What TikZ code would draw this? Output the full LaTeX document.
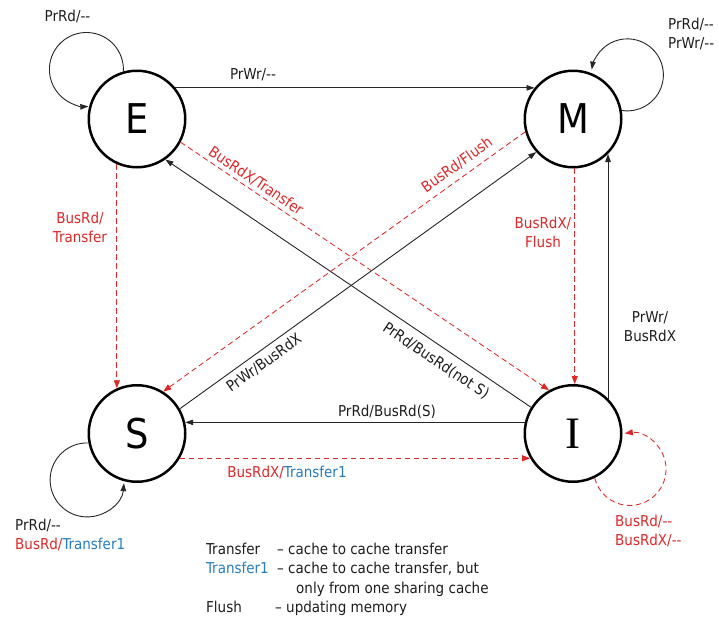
\documentclass[tikz,border=0pt]{standalone}
\usepackage{fontspec}
\setmainfont{DejaVu Sans Condensed}
\newfontfamily\serifletter{Liberation Serif}
\usetikzlibrary{arrows.meta}
\definecolor{busred}{RGB}{220,40,40}
\definecolor{xferblue}{RGB}{40,125,190}
\definecolor{ink}{RGB}{30,30,30}

\begin{document}
\begin{tikzpicture}[x=1pt,y=-1pt,
  state/.style={circle,draw=black,line width=2.5pt,minimum size=96.5pt,inner sep=0pt,
    font=\fontsize{41}{41}\selectfont},
  proc/.style={draw=black!85,line width=0.9pt,-{Triangle[length=8pt,width=5.5pt]}},
  bus/.style={draw=busred,line width=0.85pt,dash pattern=on 5.5pt off 3.5pt,
    -{Triangle[length=8pt,width=6pt]}},
  lbl/.style={font=\fontsize{15}{19}\selectfont,text=ink,inner sep=0pt,align=center},
  rlbl/.style={lbl,text=busred},
]
\useasboundingbox (0,0) rectangle (719,616);
\fill[white] (0,0) rectangle (719,616);

% states
\node[state] (E) at (137,119) {E};
\node[state] (M) at (573,119) {M};
\node[state] (S) at (137,433.5) {S};
\node[state,font=\serifletter\fontsize{45}{45}\selectfont] (I) at (573,433.5) {I};

% processor-initiated transitions
\draw[proc] (E.39) -- (M.141);
\draw[proc] (I.167) -- (S.13);
\draw[proc] (I.45) -- (M.-45);
\draw[proc] (S.30) -- (M.222);
\draw[proc] (I.148) -- (E.-55);

% bus-initiated transitions
\draw[bus] (E.-114) -- (S.114);
\draw[bus] (M.-88) -- (I.88);
\draw[bus] (S.-30) -- (I.-150);
\draw[bus] (M.195) -- (S.58);
\draw[bus] (E.-28) -- (I.119);

% self loops
\draw[proc] (E.106.5) arc[start angle=-3,end angle=273,radius=37pt];
\draw[proc] (M.10) arc[start angle=-99,end angle=171.6,radius=36pt];
\draw[proc] (S.191) arc[start angle=88,end angle=355,radius=37pt];
\draw[bus] (I.-64) arc[start angle=194,end angle=458,radius=36.2pt];

% transition labels
\node[lbl] (tEM) at (253,75) {PrWr/-{}-};
\node[rlbl] (tES) at (80,227) {BusRd/\\Transfer};
\node[rlbl] (tMI) at (543,232) {BusRdX/\\Flush};
\node[lbl] (tIM) at (650,327) {PrWr/\\BusRdX};
\node[lbl] (tIS) at (387,412) {PrRd/BusRd(S)};
\node[lbl] (tSI) at (287,472) {\textcolor{busred}{BusRdX/}\textcolor{xferblue}{Transfer1}};
\node[lbl,rotate=35.7] (tSM) at (264,363) {PrWr/BusRdX};
\node[lbl,rotate=-33.9] (tIE) at (436,361) {PrRd/BusRd(not S)};
\node[rlbl,rotate=35.6] (tMS) at (457,165) {BusRd/Flush};
\node[rlbl,rotate=-34] (tEI) at (256,181) {BusRdX/Transfer};

% self-loop labels
\node[lbl] (tEE) at (67.5,16.5) {PrRd/-{}-};
\node[lbl,anchor=west,align=left] (tMM) at (668,34) {PrRd/-{}-\\PrWr/-{}-};
\node[lbl,anchor=west,align=left] (tSS) at (15,534.5)
  {PrRd/-{}-\\\textcolor{busred}{BusRd/}\textcolor{xferblue}{Transfer1}};
\node[rlbl,anchor=west,align=left] (tII) at (615,531) {BusRd/-{}-\\BusRdX/-{}-};

% legend
\node[lbl,anchor=base west] (k1) at (206,554) {Transfer};
\node[lbl,anchor=base west] (k1d) at (277,554) {\textendash{} cache to cache transfer};
\node[lbl,anchor=base west,text=xferblue] (k2) at (206,573.5) {Transfer1};
\node[lbl,anchor=base west] (k2d) at (277,573.5) {\textendash{} cache to cache transfer, but};
\node[lbl,anchor=base west] (k3d) at (296,593) {only from one sharing cache};
\node[lbl,anchor=base west] (k4) at (206,612) {Flush};
\node[lbl,anchor=base west] (k4d) at (275,612) {\textendash{} updating memory};
\end{tikzpicture}
\end{document}
